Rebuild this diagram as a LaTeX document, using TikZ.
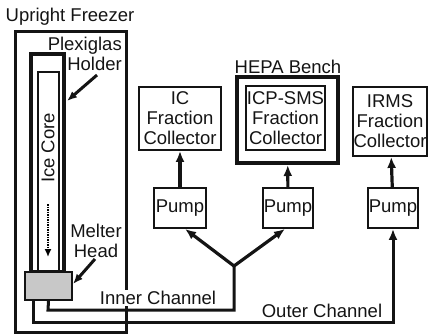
\documentclass[tikz,border=0pt]{standalone}
\usepackage{fontspec}
\setmainfont{Liberation Sans}
\usepackage{xcolor}
\usepackage{tikz}
\usetikzlibrary{shapes,arrows.meta,positioning,calc}
\definecolor{inkblack}{RGB}{20, 20, 20}
\definecolor{meltergray}{RGB}{200, 200, 200}

\begin{document}
\begin{tikzpicture}[x=1pt, y=-1pt,
    every node/.style={font=\fontsize{18.5}{20}\selectfont, text=inkblack},
    lbl/.style={inner sep=0pt},
    thinbox/.style={draw=inkblack, line width=1.8pt, align=center, inner sep=0pt},
    flow/.style={line width=3.2pt, draw=inkblack, -{Latex[length=11pt, width=9pt]}},
    pipe/.style={line width=3pt, draw=inkblack},
    pointer/.style={line width=3pt, draw=inkblack, -{Latex[length=10pt, width=8pt]}}]
    \useasboundingbox (0,0) rectangle (434,335);

    % freezer, holder, core and melter
    \draw[line width=3pt, inkblack] (15,31) rectangle (126,332);
    \node[lbl] (freezerlbl) at (70,17) {Upright Freezer};
    \node[draw=inkblack, line width=4pt, minimum width=33pt, minimum height=218pt, inner sep=0pt] (holder) at (47.5,163) {};
    \node[draw=inkblack, line width=1.5pt, minimum width=21pt, minimum height=200pt, inner sep=0pt] (core) at (48.5,172) {};
    \node[rotate=90] (corelbl) at (48,148) {Ice Core};
    \draw[densely dotted, line width=1.5pt, -{Latex[length=8pt, width=7pt]}] (48,204) -- (48,257);
    \node[draw=inkblack, fill=meltergray, line width=1.8pt, minimum width=47pt, minimum height=28pt, inner sep=0pt] (melter) at (48.5,286) {};

    \node[lbl, align=right, anchor=north east] (holderlbl) at (122,37) {Plexiglas\\Holder};
    \draw[pointer] (97,75) -- (67,101);
    \node[lbl, align=center] (melterlbl) at (96,241) {Melter\\Head};
    \draw[pointer] (95,259) -- (73,284);

    % collectors and pumps
    \node[thinbox, minimum width=82pt, minimum height=63pt] (iccol) at (180,118.5) {IC\\Fraction\\Collector};
    \node[draw=inkblack, line width=4pt, minimum width=101pt, minimum height=86pt] (hepa) at (287.5,120) {};
    \node[thinbox, minimum width=79pt, minimum height=64pt] (icpcol) at (285.5,118) {ICP-SMS\\Fraction\\Collector};
    \node[thinbox, minimum width=74pt, minimum height=69pt] (irmscol) at (390,121.5) {IRMS\\Fraction\\Collector};
    \node[lbl] (hepalbl) at (288,67) {HEPA Bench};

    \node[thinbox, minimum width=52pt, minimum height=40pt] (pumpa) at (180,208) {Pump};
    \node[thinbox, minimum width=50pt, minimum height=40pt] (pumpb) at (288,208) {Pump};
    \node[thinbox, minimum width=50pt, minimum height=40pt] (pumpc) at (393,208) {Pump};

    \draw[flow] (pumpa) -- (iccol);
    \draw[flow] (pumpb) -- (hepa);
    \draw[flow] (pumpc) -- (irmscol);

    % channels
    \coordinate (split) at (234,266);
    \draw[pipe] (melter.south) -- (48,310) -- (234,310) -- (split);
    \draw[flow] (split) -- ($(pumpa.south)+(5,0)$);
    \draw[flow] (split) -- ($(pumpb.south)+(-3,0)$);
    \draw[pipe, -{Latex[length=11pt, width=9pt]}] (33,300) -- (33,322) -- (393,322) -- (pumpc.south);

    \node[fill=white, inner sep=1pt] (innerlbl) at (158,298) {Inner Channel};
    \node[lbl] (outerlbl) at (322,311) {Outer Channel};
\end{tikzpicture}
\end{document}
